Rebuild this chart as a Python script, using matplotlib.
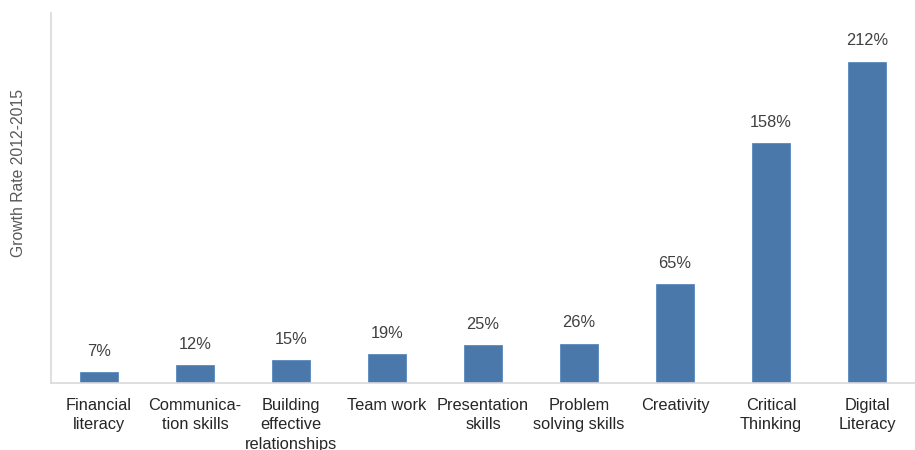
import matplotlib.pyplot as plt

skills = ["Financial\nliteracy", "Communica-\ntion skills", "Building\neffective\nrelationships",
          "Team work", "Presentation\nskills", "Problem\nsolving skills", "Creativity",
          "Critical\nThinking", "Digital\nLiteracy"]
growth = [7, 12, 15, 19, 25, 26, 65, 158, 212]

plt.rcParams["font.family"] = ["Liberation Sans", "DejaVu Sans"]

fig = plt.figure(figsize=(9.15, 4.5), dpi=100)
ax = fig.add_axes([51 / 915, 1 - 383 / 450, 864 / 915, 370 / 450])

x = range(len(skills))
bars = ax.bar(x, growth, width=0.4, color="#4a78ab", edgecolor="#5b88bb", linewidth=0.6)

for xi, v in zip(x, growth):
    ax.annotate(f"{v}%", (xi, v), xytext=(0, 9.5), textcoords="offset points",
                ha="center", va="bottom", fontsize=11.8, color="#404040")

ax.set_xlim(-0.5, 8.5)
ax.set_ylim(0, 244)
ax.set_yticks([])
ax.set_xticks(list(x))
ax.set_xticklabels(skills, fontsize=11.8, color="#262626", linespacing=1.35, va="top")
ax.tick_params(axis="x", length=0, pad=11)

for side in ["top", "right"]:
    ax.spines[side].set_visible(False)
for side in ["left", "bottom"]:
    ax.spines[side].set_color("#d9d9d9")
    ax.spines[side].set_linewidth(1.2)

fig.text(19 / 915, 1 - 173 / 450, "Growth Rate 2012-2015", rotation=90,
         ha="center", va="center", fontsize=11.3, color="#595959")

fig.savefig("out.png", dpi=100)
